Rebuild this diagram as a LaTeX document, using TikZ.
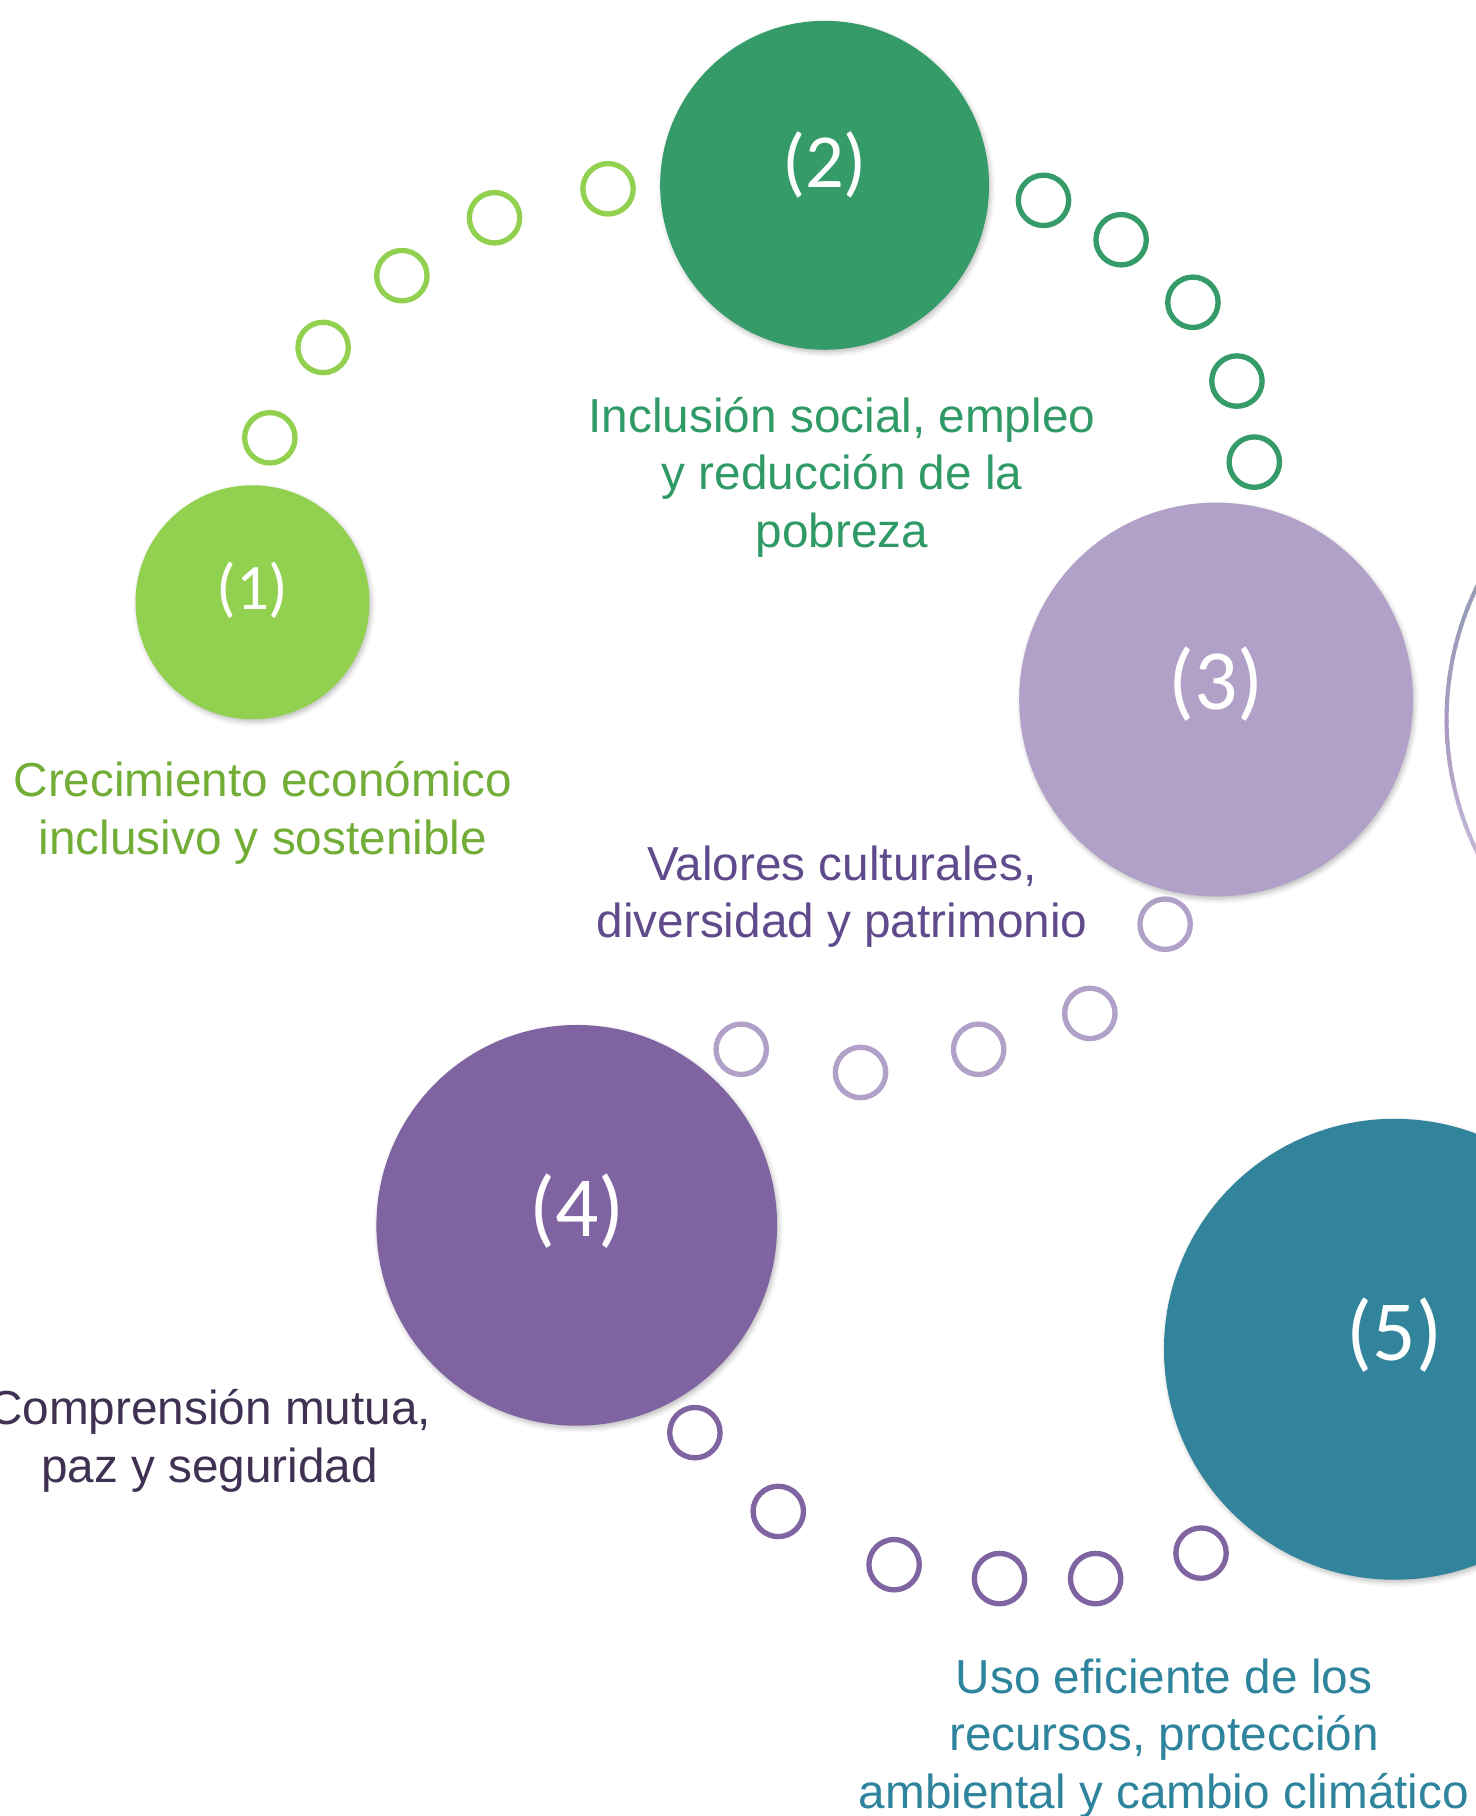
\documentclass[tikz,border=0pt]{standalone}
\usepackage{fontspec}
\setmainfont{Liberation Sans}
\newfontfamily\numfont{Carlito}
\usetikzlibrary{calc,shadows,shadows.blur}
\definecolor{cA}{HTML}{92D050}
\definecolor{cB}{HTML}{359B69}
\definecolor{cC}{HTML}{B1A0C7}
\definecolor{cD}{HTML}{8064A2}
\definecolor{cE}{HTML}{31849B}
\definecolor{tA}{HTML}{72AE37}
\definecolor{tB}{HTML}{2F9A66}
\definecolor{tC}{HTML}{5F4A8B}
\definecolor{tD}{HTML}{3F3151}
\definecolor{tE}{HTML}{2E849C}
\definecolor{arcT}{HTML}{8CA0AD}
\definecolor{arcM}{HTML}{A99AC2}
\definecolor{arcB}{HTML}{D5CBE2}
\begin{document}
\begin{tikzpicture}[x=1pt,y=-1pt,
  big/.style={circle, inner sep=0pt, minimum size=#1,
    blur shadow={shadow xshift=1.5pt, shadow yshift=-2.5pt, shadow blur radius=4pt, shadow opacity=25}},
  ring/.style={circle, draw=#1, line width=4.6pt, inner sep=0pt, minimum size=43.5pt},
  num/.style={text=white, font=\numfont\fontsize{#1}{#1}\selectfont, inner sep=0pt},
  lbl/.style={align=center, inner sep=0pt, text=#1, font=\fontsize{41.2}{49.5}\selectfont}
]
\useasboundingbox (0,0) rectangle (1274,1568);

% partial outline of a sixth circle at the right edge
\coordinate (c6) at (1512,621);
\foreach \a in {140,142,...,218}{
  \ifnum\a<180
    \pgfmathsetmacro\p{(\a-140)/40*100}\colorlet{segc}{arcM!\p!arcT}
  \else
    \pgfmathsetmacro\p{(\a-180)/40*100}\colorlet{segc}{arcB!\p!arcM}
  \fi
  \draw[line width=3.5pt, draw=segc] ($(c6)+(\a:263pt)$) arc[start angle=\a, end angle=\a+2.6, radius=263pt];
}

% big circles
\node[big=202pt, fill=cA] (c1) at (218,520) {};
\node[big=284pt, fill=cB] (c2) at (712,160) {};
\node[big=340pt, fill=cC] (c3) at (1050,604) {};
\node[big=346pt, fill=cD] (c4) at (498,1058) {};
\node[big=398pt, fill=cE] (c5) at (1204,1165) {};

\node[num=56] (n1) at ([yshift=10pt]c1.center) {(1)};
\node[num=66] (n2) at ([yshift=18pt]c2.center) {(2)};
\node[num=74] (n3) at ([yshift=13pt]c3.center) {(3)};
\node[num=74] (n4) at ([yshift=12pt]c4.center) {(4)};
\node[num=74] (n5) at ([yshift=12pt]c5.center) {(5)};

% small rings
\node[ring=cA] (a1) at (233,378) {};
\node[ring=cA] (a2) at (279,300) {};
\node[ring=cA] (a3) at (347,238) {};
\node[ring=cA] (a4) at (427,188) {};
\node[ring=cA] (a5) at (525,163) {};

\node[ring=cB] (b1) at (901,173) {};
\node[ring=cB] (b2) at (968,207) {};
\node[ring=cB] (b3) at (1030,261) {};
\node[ring=cB] (b4) at (1068,329) {};
\node[ring=cB] (b5) at (1083,399) {};

\node[ring=cC] (d1) at (1006,798) {};
\node[ring=cC] (d2) at (941,875) {};
\node[ring=cC] (d3) at (845,906) {};
\node[ring=cC] (d4) at (743,926) {};
\node[ring=cC] (d5) at (640,906) {};

\node[ring=cD] (e1) at (600,1237) {};
\node[ring=cD] (e2) at (672,1305) {};
\node[ring=cD] (e3) at (772,1351) {};
\node[ring=cD] (e4) at (863,1363) {};
\node[ring=cD] (e5) at (946,1363) {};
\node[ring=cD] (e6) at (1037,1341) {};

% labels
\node[lbl=tA] (l1) at (227,702) {Crecimiento económico\\inclusivo y sostenible};
\node[lbl=tB] (l2) at (727,412) {Inclusión social, empleo\\y reducción de la\\pobreza};
\node[lbl=tC] (l3) at (727,774) {Valores culturales,\\diversidad y patrimonio};
\node[lbl=tD] (l4) at (181,1244) {Comprensión mutua,\\paz y seguridad};
\node[lbl=tE] (l5) at (1005,1501) {Uso eficiente de los\\recursos, protección\\ambiental y cambio climático};
\end{tikzpicture}
\end{document}
